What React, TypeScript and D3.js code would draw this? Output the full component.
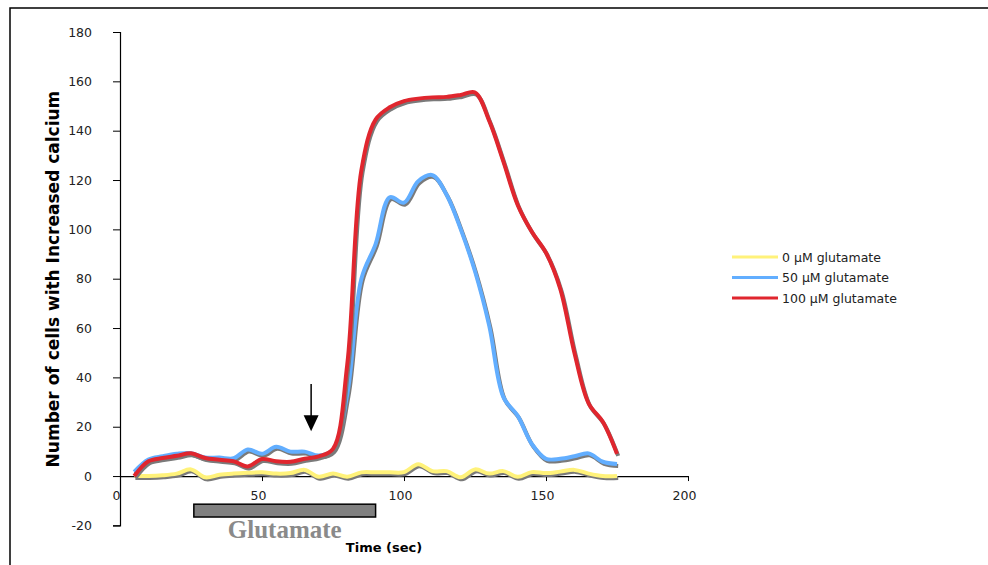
import { useEffect, useRef } from "react";
import * as d3 from "d3";

// time points (sec)
const times = [
  5, 10, 15, 20, 25, 30, 35, 40, 45, 50, 55, 60, 65, 70, 75, 80, 85, 90, 95,
  100, 105, 110, 115, 120, 125, 130, 135, 140, 145, 150, 155, 160, 165, 170,
  175,
];

const glu0 = [
  0, 0, 0.3, 1, 2.7, -0.5, 0.5, 1, 1.3, 1.5, 1, 1.2, 2.5, -0.3, 1, -0.3, 1.5,
  1.5, 1.5, 1.6, 4.8, 2, 2, -0.5, 2.7, 1, 2, -0.3, 1.6, 1.2, 1.8, 2.5, 1, 0, 0,
];

const glu50 = [
  1.7, 6.7, 8, 9, 9.3, 7.5, 7.5, 7.2, 10.8, 9, 11.9, 9.9, 9.9, 8.3, 10.5, 33,
  80, 94, 113, 110.8, 119.5, 122, 114, 100, 83, 61, 32, 24.5, 13, 7, 7, 8, 9.2,
  5.8, 4.9,
];

const glu100 = [
  0, 6, 7.3, 8.2, 9.2, 7.3, 6.6, 6, 3.9, 6.9, 6, 5.8, 7, 8, 11, 45, 124, 144.5,
  149.5, 152, 153, 153.5, 153.7, 154.5, 155.5, 144, 127.5, 110, 99, 90.5, 76,
  50, 29.5, 22, 9,
];

const seriesNames = ["0 µM glutamate", "50 µM glutamate", "100 µM glutamate"];
const seriesColors = ["#FFF27A", "#62AEFF", "#E0262E"];

const xTicks = [0, 50, 100, 150, 200];
const yTicks = [-20, 0, 20, 40, 60, 80, 100, 120, 140, 160, 180];

// glutamate application period and arrow marker
const gluPeriod = [26, 90];
const arrowTime = 67.3;

export default function App() {
  const ref = useRef<SVGSVGElement | null>(null);

  useEffect(() => {
    const svg = d3.select(ref.current);
    svg.selectAll("*").remove();

    const font = "'DejaVu Sans', Verdana, sans-serif";

    // frame
    svg
      .append("path")
      .attr("d", "M10,565 L10,8 L988,8")
      .attr("fill", "none")
      .attr("stroke", "#000")
      .attr("stroke-width", 1.5);

    const x = d3.scaleLinear().domain([0, 200]).range([120, 688]);
    const y = d3.scaleLinear().domain([-20, 180]).range([525.4, 32]);

    // y axis
    const yAxis = svg
      .append("g")
      .attr("transform", `translate(${x(0)},0)`)
      .call(
        d3
          .axisLeft(y)
          .tickValues(yTicks)
          .tickSize(7)
          .tickPadding(21)
          .tickFormat((d) => String(d))
      );
    yAxis.select(".domain").attr("stroke", "#000").attr("stroke-width", 1.2);
    yAxis.selectAll(".tick line").attr("stroke", "#000");
    yAxis
      .selectAll(".tick text")
      .attr("font-family", font)
      .attr("font-size", 12.5)
      .attr("fill", "#222");

    // x axis at y=0
    const xAxis = svg
      .append("g")
      .attr("transform", `translate(0,${y(0)})`)
      .call(
        d3
          .axisBottom(x)
          .tickValues(xTicks)
          .tickSize(5)
          .tickPadding(10)
          .tickSizeOuter(0)
          .tickFormat((d) => String(d))
      );
    xAxis.select(".domain").attr("stroke", "#000").attr("stroke-width", 1.2);
    xAxis.selectAll(".tick line").attr("stroke", "#000");
    xAxis
      .selectAll(".tick text")
      .attr("font-family", font)
      .attr("font-size", 12.5)
      .attr("fill", "#222")
      .attr("dx", -4);

    // axis titles
    svg
      .append("text")
      .attr("transform", `translate(59,${(y(180) + y(0)) / 2 + 25}) rotate(-90)`)
      .attr("text-anchor", "middle")
      .attr("font-family", font)
      .attr("font-weight", "bold")
      .attr("font-size", 17)
      .attr("fill", "#000")
      .text("Number of cells with Increased calcium");

    svg
      .append("text")
      .attr("x", 384)
      .attr("y", 552)
      .attr("text-anchor", "middle")
      .attr("font-family", font)
      .attr("font-weight", "bold")
      .attr("font-size", 13)
      .attr("fill", "#000")
      .text("Time (sec)");

    // glutamate bar
    svg
      .append("rect")
      .attr("x", x(gluPeriod[0]))
      .attr("y", y(-11.4))
      .attr("width", x(gluPeriod[1]) - x(gluPeriod[0]))
      .attr("height", y(-16.6) - y(-11.4))
      .attr("fill", "#808080")
      .attr("stroke", "#000")
      .attr("stroke-width", 1.5);

    svg
      .append("text")
      .attr("x", (x(gluPeriod[0]) + x(gluPeriod[1])) / 2)
      .attr("y", 538)
      .attr("text-anchor", "middle")
      .attr("font-family", "'Liberation Serif', 'Times New Roman', serif")
      .attr("font-weight", "bold")
      .attr("font-size", 25)
      .attr("fill", "#8a8a8a")
      .text("Glutamate");

    // lines
    const line = d3
      .line<number>()
      .x((_, i) => x(times[i]))
      .y((d) => y(d))
      .curve(d3.curveCatmullRom.alpha(0.5));

    [glu0, glu50, glu100].forEach((vals, i) => {
      svg
        .append("path")
        .attr("d", line(vals))
        .attr("transform", "translate(1.2,2)")
        .attr("fill", "none")
        .attr("stroke", "#7a7a7a")
        .attr("stroke-width", 4)
        .attr("stroke-linejoin", "round");
      svg
        .append("path")
        .attr("d", line(vals))
        .attr("fill", "none")
        .attr("stroke", seriesColors[i])
        .attr("stroke-width", 4)
        .attr("stroke-linejoin", "round");
    });

    // arrow
    const ax = x(arrowTime);
    svg
      .append("line")
      .attr("x1", ax)
      .attr("x2", ax)
      .attr("y1", y(37.3))
      .attr("y2", y(24))
      .attr("stroke", "#000")
      .attr("stroke-width", 1.5);
    svg
      .append("path")
      .attr(
        "d",
        `M${ax - 7.5},${y(24.7)} L${ax + 7.5},${y(24.7)} L${ax},${y(18.2)} Z`
      )
      .attr("fill", "#000");

    // legend
    const legend = svg.append("g").attr("transform", "translate(732,257)");
    seriesNames.forEach((name, i) => {
      const g = legend.append("g").attr("transform", `translate(0,${i * 20.5})`);
      g.append("line")
        .attr("x1", 0)
        .attr("x2", 46)
        .attr("stroke", seriesColors[i])
        .attr("stroke-width", 3);
      g.append("text")
        .attr("x", 50)
        .attr("y", 4.5)
        .attr("font-family", font)
        .attr("font-size", 12.5)
        .attr("fill", "#222")
        .text(name);
    });
  }, []);

  return (
    <svg
      ref={ref}
      width={988}
      height={565}
      style={{ position: "absolute", left: 0, top: 0, background: "#fff" }}
    />
  );
}
